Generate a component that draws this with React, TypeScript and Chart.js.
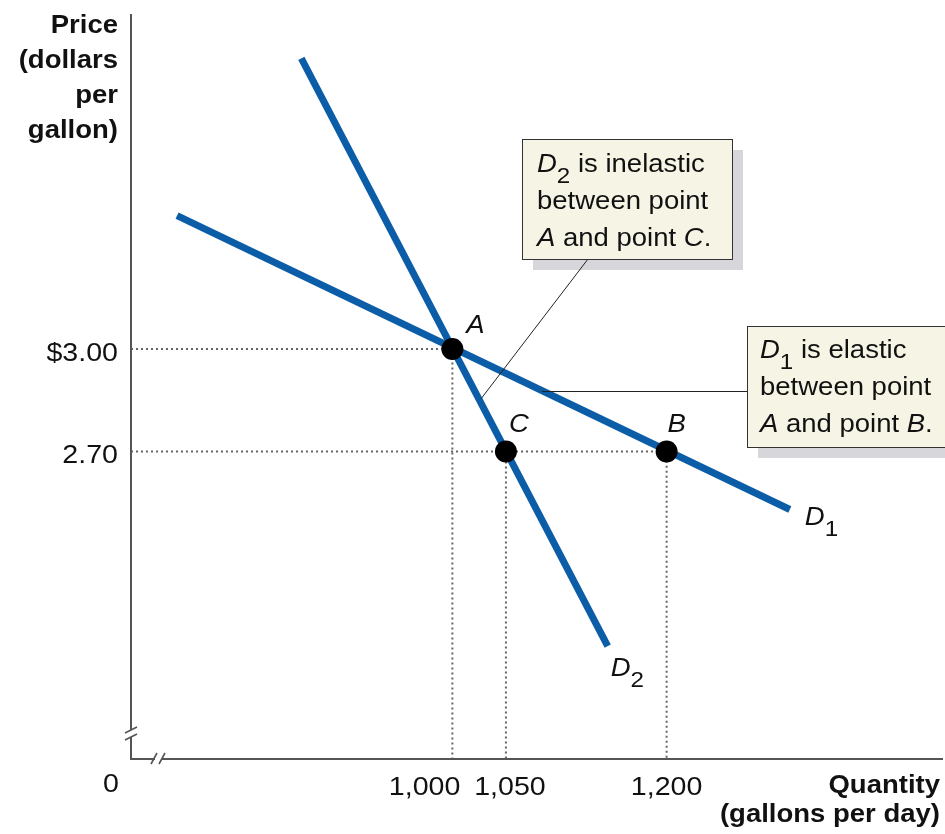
import React, { useEffect, useRef } from 'react';
import { Chart, registerables } from 'chart.js';

Chart.register(...registerables);

// ---------- data ----------
const xTickValues = [1000, 1050, 1200];
const xTickLabels = ['1,000', '1,050', '1,200'];
const yTickValues = [3.0, 2.7];
const yTickLabels = ['$3.00', '2.70'];

const d1Quantity = [743, 1315];
const d1Price = [3.39, 2.53];
const d2Quantity = [859, 1145];
const d2Price = [3.85, 2.13];

const pointNames = ['A', 'B', 'C'];
const pointQuantity = [1000, 1200, 1050];
const pointPrice = [3.0, 2.7, 2.7];

const X_MIN = 700;
const X_MAX = 1458;
const Y_MIN = 1.8;
const Y_MAX = 3.98;

// leader anchors on the curves (data units)
const d2LeaderAnchor = { x: 1027, y: 2.855 };
const d1LeaderAnchor = { x: 1083.5, y: 2.878 };

// ---------- style ----------
const BLUE = '#0c5da8';
const AXIS = '#555555';
const GUIDE = '#666666';
const FONT = '"Liberation Sans", Arial, Helvetica, sans-serif';
const SX = 1.1;

type Run = { t: string; italic?: boolean; bold?: boolean; sub?: boolean };

function fontFor(r: Run, size: number) {
  const s = r.sub ? Math.round(size * 0.88) : size;
  return `${r.italic ? 'italic ' : ''}${r.bold ? 'bold ' : ''}${s}px ${FONT}`;
}

function drawRuns(
  ctx: CanvasRenderingContext2D,
  runs: Run[],
  x: number,
  y: number,
  size: number,
  align: 'left' | 'right' | 'center' = 'left',
  color = '#111'
) {
  ctx.save();
  let total = 0;
  const widths = runs.map((r) => {
    ctx.font = fontFor(r, size);
    const w = ctx.measureText(r.t).width;
    total += w;
    return w;
  });
  let startX = x;
  if (align === 'right') startX = x - total * SX;
  else if (align === 'center') startX = x - (total * SX) / 2;
  ctx.translate(startX, y);
  ctx.scale(SX, 1);
  ctx.fillStyle = color;
  ctx.textAlign = 'left';
  ctx.textBaseline = 'alphabetic';
  let cx = 0;
  runs.forEach((r, i) => {
    ctx.font = fontFor(r, size);
    ctx.fillText(r.t, cx, r.sub ? size * 0.44 : 0);
    cx += widths[i];
  });
  ctx.restore();
}

function drawShadow(ctx: CanvasRenderingContext2D, x: number, y: number, w: number, h: number) {
  ctx.save();
  ctx.fillStyle = '#d7d7db';
  ctx.fillRect(x + 11, y + 11, w, h);
  ctx.restore();
}

function drawBox(ctx: CanvasRenderingContext2D, x: number, y: number, w: number, h: number) {
  ctx.save();
  ctx.fillStyle = '#f6f4e4';
  ctx.fillRect(x, y, w, h);
  ctx.strokeStyle = '#333';
  ctx.lineWidth = 1;
  ctx.strokeRect(x + 0.5, y + 0.5, w, h);
  ctx.restore();
}

const decorPlugin = {
  id: 'decor',
  afterDatasetsDraw(chart: any) {
    const ctx: CanvasRenderingContext2D = chart.ctx;
    const xs = chart.scales.x;
    const ys = chart.scales.y;
    const area = chart.chartArea;
    const L = area.left;
    const B = area.bottom;

    // ---- axes with breaks ----
    ctx.save();
    ctx.strokeStyle = AXIS;
    ctx.lineWidth = 2;
    ctx.lineCap = 'butt';
    ctx.beginPath();
    ctx.moveTo(L, area.top);
    ctx.lineTo(L, B - 29);
    ctx.moveTo(L, B - 22);
    ctx.lineTo(L, B);
    ctx.lineTo(L + 24, B);
    ctx.moveTo(L + 31, B);
    ctx.lineTo(area.right, B);
    ctx.stroke();
    ctx.lineWidth = 1.6;
    ctx.beginPath();
    // y-axis break slashes
    ctx.moveTo(L - 6, B - 26);
    ctx.lineTo(L + 6, B - 32);
    ctx.moveTo(L - 6, B - 19);
    ctx.lineTo(L + 6, B - 25);
    // x-axis break slashes
    ctx.moveTo(L + 20, B + 5);
    ctx.lineTo(L + 26, B - 6);
    ctx.moveTo(L + 28, B + 5);
    ctx.lineTo(L + 34, B - 6);
    ctx.stroke();
    ctx.restore();

    const boxD2 = { x: 522, y: 139, w: 210, h: 120 };
    const boxD1 = { x: 747, y: 326, w: 230, h: 121 };

    // ---- shadows ----
    drawShadow(ctx, boxD2.x, boxD2.y, boxD2.w, boxD2.h);
    drawShadow(ctx, boxD1.x, boxD1.y, boxD1.w, boxD1.h);

    // ---- leader lines ----
    ctx.save();
    ctx.strokeStyle = '#222';
    ctx.lineWidth = 1;
    ctx.beginPath();
    ctx.moveTo(xs.getPixelForValue(d2LeaderAnchor.x), ys.getPixelForValue(d2LeaderAnchor.y));
    ctx.lineTo(588, boxD2.y + boxD2.h);
    const ly = Math.round(ys.getPixelForValue(d1LeaderAnchor.y)) + 0.5;
    ctx.moveTo(xs.getPixelForValue(d1LeaderAnchor.x), ly);
    ctx.lineTo(boxD1.x, ly);
    ctx.stroke();
    ctx.restore();

    // ---- boxes ----
    drawBox(ctx, boxD2.x, boxD2.y, boxD2.w, boxD2.h);
    drawBox(ctx, boxD1.x, boxD1.y, boxD1.w, boxD1.h);
    const TS = 25;
    drawRuns(ctx, [{ t: 'D', italic: true }, { t: '2', sub: true }, { t: ' is inelastic' }], 537, 172, TS);
    drawRuns(ctx, [{ t: 'between point' }], 537, 209, TS);
    drawRuns(ctx, [{ t: 'A', italic: true }, { t: ' and point ' }, { t: 'C', italic: true }, { t: '.' }], 537, 246, TS);
    drawRuns(ctx, [{ t: 'D', italic: true }, { t: '1', sub: true }, { t: ' is elastic' }], 760, 358, TS);
    drawRuns(ctx, [{ t: 'between point' }], 760, 395, TS);
    drawRuns(ctx, [{ t: 'A', italic: true }, { t: ' and point ' }, { t: 'B', italic: true }, { t: '.' }], 760, 432, TS);

    // ---- axis titles ----
    const titleY = ['Price', '(dollars', 'per', 'gallon)'];
    titleY.forEach((t, i) => drawRuns(ctx, [{ t, bold: true }], L - 13, 33 + i * 35, TS, 'right'));
    drawRuns(ctx, [{ t: 'Quantity', bold: true }], 940, 793, TS, 'right');
    drawRuns(ctx, [{ t: '(gallons per day)', bold: true }], 940, 822, TS, 'right');

    // ---- tick labels ----
    xTickValues.forEach((v, i) => {
      const px = xs.getPixelForValue(v);
      if (i === 0) drawRuns(ctx, [{ t: xTickLabels[i] }], px + 8, 795, 26, 'right');
      else drawRuns(ctx, [{ t: xTickLabels[i] }], px + (i === 1 ? 4 : 0), 795, 26, 'center');
    });
    yTickValues.forEach((v, i) => {
      const py = ys.getPixelForValue(v);
      drawRuns(ctx, [{ t: yTickLabels[i] }], L - 13, py + 12, 26, 'right');
    });
    drawRuns(ctx, [{ t: '0' }], L - 20, 792, 26, 'center');

    // ---- point labels ----
    const labelOffsets = [
      [14, -16],
      [1, -19],
      [3, -19],
    ];
    pointNames.forEach((n, i) => {
      const px = xs.getPixelForValue(pointQuantity[i]);
      const py = ys.getPixelForValue(pointPrice[i]);
      drawRuns(ctx, [{ t: n, italic: true }], px + labelOffsets[i][0], py + labelOffsets[i][1], TS);
    });

    // ---- curve labels ----
    const d1x = xs.getPixelForValue(d1Quantity[1]);
    const d1y = ys.getPixelForValue(d1Price[1]);
    drawRuns(ctx, [{ t: 'D', italic: true }, { t: '1', sub: true }], d1x + 15, d1y + 15, TS);
    const d2x = xs.getPixelForValue(d2Quantity[1]);
    const d2y = ys.getPixelForValue(d2Price[1]);
    drawRuns(ctx, [{ t: 'D', italic: true }, { t: '2', sub: true }], d2x + 3, d2y + 30, TS);
  },
};

export default function App() {
  const ref = useRef<HTMLCanvasElement>(null);

  useEffect(() => {
    const canvas = ref.current;
    if (!canvas) return;
    const pts = (xs: number[], ys: number[]) => xs.map((x, i) => ({ x, y: ys[i] }));
    const guide = (data: { x: number; y: number }[]) => ({
      data,
      showLine: true,
      borderColor: GUIDE,
      borderWidth: 2,
      borderDash: [2, 3],
      pointRadius: 0,
      fill: false,
      order: 3,
    });

    const chart = new Chart(canvas, {
      type: 'scatter',
      data: {
        datasets: [
          {
            label: 'Points',
            data: pts(pointQuantity, pointPrice),
            showLine: false,
            pointRadius: 11,
            pointBackgroundColor: '#000',
            pointBorderColor: '#000',
            pointBorderWidth: 0,
            order: 0,
          } as any,
          {
            label: 'D1',
            data: pts(d1Quantity, d1Price),
            showLine: true,
            borderColor: BLUE,
            borderWidth: 7,
            borderCapStyle: 'butt',
            pointRadius: 0,
            order: 1,
          } as any,
          {
            label: 'D2',
            data: pts(d2Quantity, d2Price),
            showLine: true,
            borderColor: BLUE,
            borderWidth: 7,
            borderCapStyle: 'butt',
            pointRadius: 0,
            order: 1,
          } as any,
          guide([
            { x: X_MIN, y: pointPrice[0] },
            { x: pointQuantity[0], y: pointPrice[0] },
            { x: pointQuantity[0], y: Y_MIN },
          ]) as any,
          guide([
            { x: X_MIN, y: pointPrice[1] },
            { x: pointQuantity[1], y: pointPrice[1] },
            { x: pointQuantity[1], y: Y_MIN },
          ]) as any,
          guide([
            { x: pointQuantity[2], y: pointPrice[2] },
            { x: pointQuantity[2], y: Y_MIN },
          ]) as any,
        ],
      },
      options: {
        animation: false,
        responsive: false,
        devicePixelRatio: 1,
        events: [],
        layout: { autoPadding: false, padding: { left: 131, top: 14, right: 2, bottom: 75 } },
        plugins: {
          legend: { display: false },
          tooltip: { enabled: false },
        },
        scales: {
          x: { type: 'linear', min: X_MIN, max: X_MAX, display: false },
          y: { type: 'linear', min: Y_MIN, max: Y_MAX, display: false },
        },
      } as any,
      plugins: [decorPlugin],
    });
    return () => chart.destroy();
  }, []);

  return (
    <div style={{ position: 'fixed', left: 0, top: 0, width: 945, height: 834, background: '#fff' }}>
      <canvas ref={ref} width={945} height={834} style={{ display: 'block' }} />
    </div>
  );
}
